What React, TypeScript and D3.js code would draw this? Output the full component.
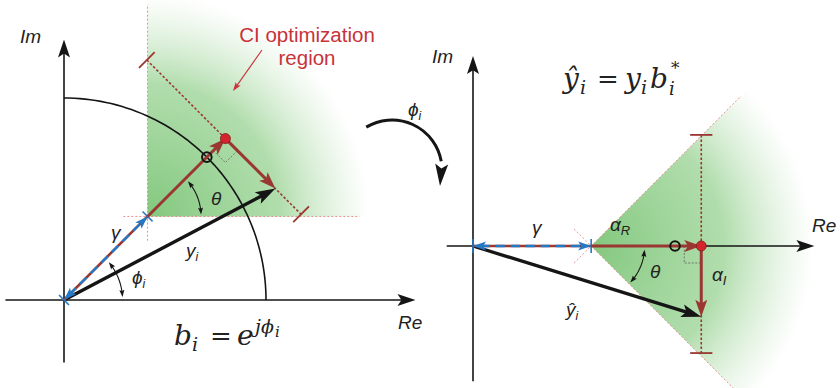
import React from 'react';
import * as d3 from 'd3';

type Pt = [number, number];

// geometry, in units of the unit circle |b_i| = 1
const phiDeg = 45; // phase of b_i (left panel rotation)
const thetaDeg = 45; // half angle of the CI region
const gammaLen = 0.585; // γ, distance from origin to region apex
const alphaR = 0.545; // α_R
const alphaI = 0.35; // α_I
const boundHalf = [0.55, 0.53]; // dotted bound through the red dot, above / below
const coneRay = [1.05, 0.12]; // cone edges, forward / backward from apex
const regionRadius = [1.25, 1.1]; // filled region / gradient fade radius

// axis extents [min, max]
const leftReAxis = [-0.29, 1.74];
const leftImAxis = [-0.31, 1.29];
const rightReAxis = [-0.13, 1.69];
const rightImAxis = [-0.67, 0.94];

// angle arcs: [radius, from deg, to deg]
const thetaArc = [0.265, -4, -43];
const phiArc = [0.29, 40, 3];

const BROWN = '#9a3732';
const BLUE = '#2379c6';
const BLACK = '#151515';
const RED = '#c8323a';
const LABEL_FONT = '"Liberation Sans", Arial, sans-serif';
const MATH_FONT = '"DejaVu Serif", serif';

const headPts = (tip: Pt, from: Pt, len: number, wid: number, notch = 0.22) => {
  const dx = tip[0] - from[0];
  const dy = tip[1] - from[1];
  const n = Math.hypot(dx, dy);
  const ux = dx / n;
  const uy = dy / n;
  const bx = tip[0] - ux * len;
  const by = tip[1] - uy * len;
  const px = (-uy * wid) / 2;
  const py = (ux * wid) / 2;
  const mx = tip[0] - ux * len * (1 - notch);
  const my = tip[1] - uy * len * (1 - notch);
  return `${tip[0]},${tip[1]} ${bx + px},${by + py} ${mx},${my} ${bx - px},${by - py}`;
};

function Arrow({ from, to, color, width, len, wid, both = false, dash }: any) {
  const dx = to[0] - from[0];
  const dy = to[1] - from[1];
  const n = Math.hypot(dx, dy);
  const ux = dx / n;
  const uy = dy / n;
  const s = both ? len * 0.6 : 0;
  return (
    <g>
      <line
        x1={from[0] + ux * s}
        y1={from[1] + uy * s}
        x2={to[0] - ux * len * 0.6}
        y2={to[1] - uy * len * 0.6}
        stroke={color}
        strokeWidth={width}
        strokeDasharray={dash}
      />
      <polygon points={headPts(to, from, len, wid)} fill={color} />
      {both && <polygon points={headPts(from, to, len, wid)} fill={color} />}
    </g>
  );
}

// arc with arrowheads on both ends, points given on screen
function AngleArc({ pts }: { pts: Pt[] }) {
  const line = d3.line();
  const k = pts.length - 1;
  return (
    <g>
      <path d={line(pts.slice(2, k - 1)) || ''} fill="none" stroke={BLACK} strokeWidth={1.1} />
      <polygon points={headPts(pts[0], pts[3], 7, 5, 0.15)} fill={BLACK} />
      <polygon points={headPts(pts[k], pts[k - 3], 7, 5, 0.15)} fill={BLACK} />
    </g>
  );
}

function Panel({ sx, sy, rot, id, reAxis, imAxis, left }: any) {
  const rr = (rot * Math.PI) / 180;
  const th = (thetaDeg * Math.PI) / 180;
  const R = (p: Pt): Pt => [p[0] * Math.cos(rr) - p[1] * Math.sin(rr), p[0] * Math.sin(rr) + p[1] * Math.cos(rr)];
  const P = (p: Pt): Pt => {
    const q = R(p);
    return [sx(q[0]), sy(q[1])];
  };
  const unitPx = sx(1) - sx(0);

  const O: Pt = [0, 0];
  const G: Pt = [gammaLen, 0];
  const Dx = gammaLen + alphaR;
  const D: Pt = [Dx, 0];
  const Y: Pt = [Dx, -alphaI];

  const region = [
    G,
    ...d3.range(0, 41).map((k): Pt => {
      const a = th - (2 * th * k) / 40;
      return [G[0] + regionRadius[0] * Math.cos(a), regionRadius[0] * Math.sin(a)];
    }),
  ].map(P);

  const rays = [th, -th].map((a) => [
    P([G[0] - coneRay[1] * Math.cos(a), -coneRay[1] * Math.sin(a)]),
    P([G[0] + coneRay[0] * Math.cos(a), coneRay[0] * Math.sin(a)]),
  ]);

  const arcPts = (c: Pt, r: number, a0: number, a1: number, abs = false): Pt[] =>
    d3.range(0, 25).map((k) => {
      const a = ((a0 + ((a1 - a0) * k) / 24) * Math.PI) / 180;
      if (abs) return [sx(c[0] + r * Math.cos(a)), sy(c[1] + r * Math.sin(a))] as Pt;
      return P([c[0] + r * Math.cos(a), c[1] + r * Math.sin(a)]);
    });

  const bTop = P([Dx, boundHalf[0]]);
  const bBot = P([Dx, -boundHalf[1]]);
  const tick = (c: Pt, half: number, dir: Pt) => {
    const a = P([c[0] - dir[0] * half, c[1] - dir[1] * half]);
    const b = P([c[0] + dir[0] * half, c[1] + dir[1] * half]);
    return { x1: a[0], y1: a[1], x2: b[0], y2: b[1] };
  };
  const sq = 17 / unitPx;
  const corner = [P([Dx - sq, 0]), P([Dx - sq, -sq]), P([Dx, -sq])];
  const g0 = P(G);
  const o0 = P(O);

  return (
    <g>
      <defs>
        <radialGradient id={id} gradientUnits="userSpaceOnUse" cx={g0[0]} cy={g0[1]} r={regionRadius[1] * unitPx}>
          <stop offset="0" stopColor="#7cc577" stopOpacity={0.95} />
          <stop offset="0.6" stopColor="#93d08d" stopOpacity={0.72} />
          <stop offset="1" stopColor="#b9e0b4" stopOpacity={0} />
        </radialGradient>
      </defs>
      <polygon points={region.map((p) => p.join(',')).join(' ')} fill={`url(#${id})`} />
      {rays.map((r, i) => (
        <line key={i} x1={r[0][0]} y1={r[0][1]} x2={r[1][0]} y2={r[1][1]} stroke="#e27676" strokeWidth={0.8} strokeDasharray="2 2" />
      ))}

      {left && (
        <path
          d={d3.line()(d3.range(0, 61).map((k) => [sx(Math.cos((k * Math.PI) / 120)), sy(Math.sin((k * Math.PI) / 120))] as Pt)) || ''}
          fill="none"
          stroke={BLACK}
          strokeWidth={1.6}
        />
      )}

      {/* axes */}
      <Arrow from={[sx(reAxis[0]), sy(0)]} to={[sx(reAxis[1]), sy(0)]} color={BLACK} width={1.6} len={18} wid={12} />
      <Arrow from={[sx(0), sy(imAxis[0])]} to={[sx(0), sy(imAxis[1])]} color={BLACK} width={1.6} len={18} wid={12} />

      {/* dotted bound through the optimum */}
      <line x1={bTop[0]} y1={bTop[1]} x2={bBot[0]} y2={bBot[1]} stroke={BROWN} strokeWidth={1.6} strokeDasharray="2.5 2" />
      <line {...tick([Dx, boundHalf[0]], 0.055, [1, 0])} stroke={BROWN} strokeWidth={1.8} />
      <line {...tick([Dx, -boundHalf[1]], 0.055, [1, 0])} stroke={BROWN} strokeWidth={1.8} />

      {/* right angle */}
      <polyline points={corner.map((p) => p.join(',')).join(' ')} fill="none" stroke="#555" strokeWidth={0.7} strokeDasharray="2 1.5" />

      {/* y_i / ŷ_i */}
      <Arrow from={o0} to={P(Y)} color={BLACK} width={3.4} len={20} wid={13} />

      {/* γ */}
      <line x1={o0[0]} y1={o0[1]} x2={g0[0]} y2={g0[1]} stroke={BROWN} strokeWidth={2.6} />
      <Arrow from={o0} to={g0} color={BLUE} width={2.4} len={13} wid={9} both dash="9 6" />
      <line {...tick(G, 0.035, [0, 1])} stroke={BLUE} strokeWidth={1.6} />
      <line {...tick(O, 0.035, [0, 1])} stroke={BLUE} strokeWidth={1.6} />

      {/* α_R, α_I */}
      <Arrow from={g0} to={P(D)} color={BROWN} width={3} len={17} wid={12} />
      <Arrow from={P(D)} to={P(Y)} color={BROWN} width={3} len={17} wid={12} />

      <circle cx={P([1, 0])[0]} cy={P([1, 0])[1]} r={4.8} fill="none" stroke={BLACK} strokeWidth={2} />
      <circle cx={P(D)[0]} cy={P(D)[1]} r={5} fill="#d3262c" stroke="#7d1a1a" strokeWidth={0.8} />

      <AngleArc pts={arcPts(G, thetaArc[0], thetaArc[1], thetaArc[2])} />
      {left && <AngleArc pts={arcPts(O, phiArc[0], phiArc[1], phiArc[2], true)} />}
    </g>
  );
}

const Sub = ({ children, size = 12, dy = 4 }: any) => (
  <tspan fontSize={size} dy={dy}>
    {children}
  </tspan>
);

// a piece of the math formulas, placed on its own
const M = ({ x, y, size = 28, upright = false, children }: any) => (
  <text x={x} y={y} fontFamily={MATH_FONT} fontStyle={upright ? 'normal' : 'italic'} fontSize={size} fill="#222">
    {children}
  </text>
);

export default function App() {
  const leftX = d3.scaleLinear().domain([0, 1]).range([64, 266]);
  const leftY = d3.scaleLinear().domain([0, 1]).range([300, 98]);
  const rightX = d3.scaleLinear().domain([0, 1]).range([473, 675]);
  const rightY = d3.scaleLinear().domain([0, 1]).range([246, 44]);

  const rotArc = d3.path();
  rotArc.arc(392, 170, 50, (-121 * Math.PI) / 180, (-10 * Math.PI) / 180);
  const rotEnd: Pt = [392 + 50 * Math.cos((-10 * Math.PI) / 180), 170 + 50 * Math.sin((-10 * Math.PI) / 180)];

  const lab = { fontFamily: LABEL_FONT, fontStyle: 'italic', fontSize: 19, fill: '#222' } as const;

  return (
    <svg width={840} height={388} style={{ position: 'absolute', left: 0, top: 0, background: '#fff' }}>
      <Panel sx={leftX} sy={leftY} rot={phiDeg} id="gl" reAxis={leftReAxis} imAxis={leftImAxis} left />
      <Panel sx={rightX} sy={rightY} rot={0} id="gr" reAxis={rightReAxis} imAxis={rightImAxis} />

      {/* rotation between panels */}
      <path d={rotArc.toString()} fill="none" stroke={BLACK} strokeWidth={3} />
      <polygon points={headPts([440, 186], [rotEnd[0] + 1, rotEnd[1] - 4], 22, 13, 0.2)} fill={BLACK} />
      <text x={408} y={116} {...lab}>
        ϕ<Sub>i</Sub>
      </text>

      {/* left labels */}
      <text x={20} y={43} {...lab}>Im</text>
      <text x={398} y={329} {...lab}>Re</text>
      <text x={307} y={42} textAnchor="middle" fontFamily={LABEL_FONT} fontSize={20.5} fill={RED}>
        CI optimization
      </text>
      <text x={307} y={65} textAnchor="middle" fontFamily={LABEL_FONT} fontSize={20.5} fill={RED}>
        region
      </text>
      <Arrow from={[262, 50]} to={[233, 91]} color={RED} width={1.1} len={9} wid={6} />
      <text x={111} y={239} {...lab}>γ</text>
      <text x={186} y={257} {...lab}>
        y<Sub>i</Sub>
      </text>
      <text x={211} y={205} {...lab}>θ</text>
      <text x={132} y={284} {...lab}>
        ϕ<Sub>i</Sub>
      </text>

      {/* b_i = e^{jϕ_i} */}
      <M x={174} y={345}>b</M>
      <M x={192} y={351} size={19}>i</M>
      <M x={210} y={345} size={26} upright>=</M>
      <M x={237} y={345}>e</M>
      <M x={255} y={333} size={19}>jϕ</M>
      <M x={275} y={337} size={15}>i</M>

      {/* ŷ_i = y_i b_i^* */}
      <M x={563} y={88}>ŷ</M>
      <M x={580} y={94} size={19}>i</M>
      <M x={597} y={88} size={26} upright>=</M>
      <M x={625} y={88}>y</M>
      <M x={641} y={94} size={19}>i</M>
      <M x={650} y={88}>b</M>
      <M x={669} y={95} size={18}>i</M>
      <M x={671} y={74} size={17} upright>*</M>

      {/* right labels */}
      <text x={432} y={63} {...lab}>Im</text>
      <text x={812} y={232} {...lab}>Re</text>
      <text x={532} y={234} {...lab}>γ</text>
      <text x={610} y={231} {...lab}>
        α<Sub size={13}>R</Sub>
      </text>
      <text x={650} y={278} {...lab}>θ</text>
      <text x={712} y={281} {...lab}>
        α<Sub size={13}>I</Sub>
      </text>
      <text x={566} y={316} {...lab}>
        ŷ<Sub>i</Sub>
      </text>
    </svg>
  );
}
